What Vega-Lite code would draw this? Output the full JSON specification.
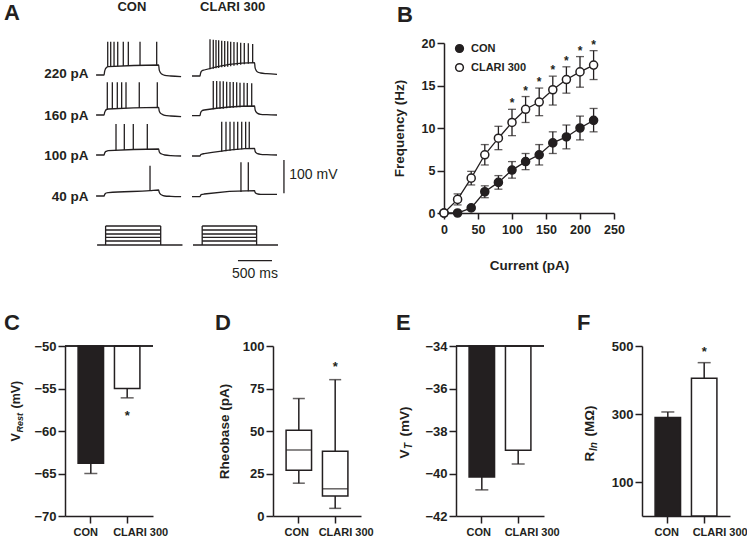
{
"$schema": "https://vega.github.io/schema/vega-lite/v6.json",
"padding": {"left": 4, "top": 0, "right": 0, "bottom": 0},
"background": "white",
"config": {
  "font": "Liberation Sans",
  "view": {"stroke": null},
  "axis": {"grid": false, "domainColor": "#231f20", "domainWidth": 1.5, "tickColor": "#231f20", "tickWidth": 1.5, "tickSize": 7, "labelColor": "#231f20", "labelFontWeight": "bold", "labelFontSize": 13, "labelPadding": 2, "titleColor": "#231f20", "titleFontWeight": "bold", "titleFontSize": 13.5, "labelAngle": 0},
  "title": {"fontSize": 22, "fontWeight": "bold", "color": "#231f20", "anchor": "start", "frame": "group", "offset": 0}
},
"vconcat": [
 {
  "hconcat": [
   {
    "width": 235, "height": 237,
    "title": {"text": "A", "dx": -61, "dy": 29},
    "layer": [
     {
      "data": {"values": [
        {"tr":"c220","t":0,"v":615},{"tr":"c220","t":118,"v":615},{"tr":"c220","t":125,"v":625},{"tr":"c220","t":135,"v":632},{"tr":"c220","t":150,"v":637},{"tr":"c220","t":180,"v":640},{"tr":"c220","t":920,"v":645},{"tr":"c220","t":927,"v":632},{"tr":"c220","t":940,"v":624},{"tr":"c220","t":965,"v":618},{"tr":"c220","t":1010,"v":614},{"tr":"c220","t":1100,"v":612},{"tr":"c220","t":1250,"v":610},
        {"tr":"k220","t":1410,"v":612},{"tr":"k220","t":1528,"v":612},{"tr":"k220","t":1535,"v":619},{"tr":"k220","t":1545,"v":625},{"tr":"k220","t":1560,"v":628},{"tr":"k220","t":1590,"v":630},{"tr":"k220","t":2330,"v":652},{"tr":"k220","t":2337,"v":638},{"tr":"k220","t":2350,"v":630},{"tr":"k220","t":2375,"v":624},{"tr":"k220","t":2420,"v":621},{"tr":"k220","t":2510,"v":619},{"tr":"k220","t":2660,"v":617},
        {"tr":"c160","t":0,"v":495},{"tr":"c160","t":118,"v":495},{"tr":"c160","t":125,"v":502},{"tr":"c160","t":135,"v":507},{"tr":"c160","t":150,"v":511},{"tr":"c160","t":180,"v":513},{"tr":"c160","t":920,"v":518},{"tr":"c160","t":927,"v":508},{"tr":"c160","t":940,"v":502},{"tr":"c160","t":965,"v":498},{"tr":"c160","t":1010,"v":494},{"tr":"c160","t":1100,"v":492},{"tr":"c160","t":1250,"v":490},
        {"tr":"k160","t":1410,"v":493},{"tr":"k160","t":1528,"v":493},{"tr":"k160","t":1535,"v":500},{"tr":"k160","t":1545,"v":505},{"tr":"k160","t":1560,"v":508},{"tr":"k160","t":1590,"v":510},{"tr":"k160","t":2330,"v":522},{"tr":"k160","t":2337,"v":512},{"tr":"k160","t":2350,"v":505},{"tr":"k160","t":2375,"v":500},{"tr":"k160","t":2420,"v":497},{"tr":"k160","t":2510,"v":496},{"tr":"k160","t":2660,"v":495},
        {"tr":"c100","t":0,"v":375},{"tr":"c100","t":118,"v":375},{"tr":"c100","t":125,"v":380},{"tr":"c100","t":135,"v":384},{"tr":"c100","t":150,"v":386},{"tr":"c100","t":180,"v":388},{"tr":"c100","t":920,"v":393},{"tr":"c100","t":927,"v":386},{"tr":"c100","t":940,"v":381},{"tr":"c100","t":965,"v":378},{"tr":"c100","t":1010,"v":375},{"tr":"c100","t":1100,"v":373},{"tr":"c100","t":1250,"v":372},
        {"tr":"k100","t":1410,"v":372},{"tr":"k100","t":1528,"v":372},{"tr":"k100","t":1535,"v":375},{"tr":"k100","t":1545,"v":377},{"tr":"k100","t":1560,"v":378},{"tr":"k100","t":1590,"v":379},{"tr":"k100","t":2330,"v":395},{"tr":"k100","t":2337,"v":387},{"tr":"k100","t":2350,"v":382},{"tr":"k100","t":2375,"v":379},{"tr":"k100","t":2420,"v":377},{"tr":"k100","t":2510,"v":376},{"tr":"k100","t":2660,"v":375},
        {"tr":"c40","t":0,"v":252},{"tr":"c40","t":118,"v":252},{"tr":"c40","t":125,"v":256},{"tr":"c40","t":135,"v":259},{"tr":"c40","t":150,"v":261},{"tr":"c40","t":180,"v":262},{"tr":"c40","t":793,"v":268},{"tr":"c40","t":920,"v":270},{"tr":"c40","t":927,"v":264},{"tr":"c40","t":940,"v":259},{"tr":"c40","t":965,"v":255},{"tr":"c40","t":1010,"v":252},{"tr":"c40","t":1100,"v":251},{"tr":"c40","t":1250,"v":250},
        {"tr":"k40","t":1410,"v":250},{"tr":"k40","t":1528,"v":250},{"tr":"k40","t":1535,"v":253},{"tr":"k40","t":1545,"v":256},{"tr":"k40","t":1560,"v":257},{"tr":"k40","t":1590,"v":258},{"tr":"k40","t":2330,"v":268},{"tr":"k40","t":2337,"v":263},{"tr":"k40","t":2350,"v":260},{"tr":"k40","t":2375,"v":258},{"tr":"k40","t":2420,"v":257},{"tr":"k40","t":2510,"v":257},{"tr":"k40","t":2660,"v":257}
      ]},
      "mark": {"type": "line", "color": "#231f20", "strokeWidth": 1.3, "interpolate": "monotone"},
      "encoding": {
        "x": {"field": "t", "type": "quantitative", "scale": {"domain": [-457, 2998], "nice": false, "zero": false},
              "axis": {"orient": "top", "values": [518, 2000], "labelExpr": "datum.value < 1000 ? 'CON' : 'CLARI 300'", "domain": false, "ticks": false, "title": null, "labelFontSize": 13, "labelPadding": 30, "labelFlush": false}},
        "y": {"field": "v", "type": "quantitative", "scale": {"domain": [0, 711], "nice": false, "zero": false},
              "axis": {"orient": "left", "values": [252, 375, 495, 620], "labelExpr": "datum.value > 600 ? '220 pA' : datum.value > 450 ? '160 pA' : datum.value > 300 ? '100 pA' : '40 pA'", "domain": false, "ticks": false, "title": null, "offset": -25, "labelPadding": 2, "labelFontSize": 13.5, "labelBaseline": "middle"}},
        "detail": {"field": "tr"}
      }
     },
     {
      "data": {"values": [
        {"t":171,"t2":171,"v":640,"v2":715},{"t":215,"t2":215,"v":640,"v2":715},{"t":264,"t2":264,"v":641,"v2":715},{"t":318,"t2":318,"v":641,"v2":715},{"t":400,"t2":400,"v":642,"v2":715},{"t":474,"t2":474,"v":642,"v2":715},{"t":646,"t2":646,"v":643,"v2":715},{"t":891,"t2":891,"v":645,"v2":715},
        {"t":1675,"t2":1675,"v":632,"v2":722},{"t":1723,"t2":1723,"v":634,"v2":721},{"t":1763,"t2":1763,"v":635,"v2":720},{"t":1802,"t2":1802,"v":636,"v2":719},{"t":1847,"t2":1847,"v":638,"v2":718},{"t":1891,"t2":1891,"v":639,"v2":717},{"t":1935,"t2":1935,"v":640,"v2":716},{"t":1979,"t2":1979,"v":641,"v2":715},{"t":2027,"t2":2027,"v":643,"v2":714},{"t":2076,"t2":2076,"v":644,"v2":713},{"t":2126,"t2":2126,"v":646,"v2":712},{"t":2179,"t2":2179,"v":647,"v2":711},{"t":2238,"t2":2238,"v":649,"v2":710},{"t":2302,"t2":2302,"v":651,"v2":708},
        {"t":165,"t2":165,"v":513,"v2":593},{"t":239,"t2":239,"v":513,"v2":593},{"t":312,"t2":312,"v":514,"v2":593},{"t":376,"t2":376,"v":514,"v2":593},{"t":440,"t2":440,"v":515,"v2":593},{"t":635,"t2":635,"v":516,"v2":593},{"t":900,"t2":900,"v":518,"v2":593},
        {"t":1723,"t2":1723,"v":512,"v2":597},{"t":1773,"t2":1773,"v":513,"v2":597},{"t":1822,"t2":1822,"v":514,"v2":596},{"t":1870,"t2":1870,"v":514,"v2":596},{"t":1920,"t2":1920,"v":515,"v2":595},{"t":1969,"t2":1969,"v":516,"v2":594},{"t":2017,"t2":2017,"v":517,"v2":594},{"t":2067,"t2":2067,"v":518,"v2":593},{"t":2116,"t2":2116,"v":518,"v2":592},{"t":2174,"t2":2174,"v":519,"v2":592},{"t":2223,"t2":2223,"v":520,"v2":591},{"t":2288,"t2":2288,"v":521,"v2":590},
        {"t":293,"t2":293,"v":389,"v2":468},{"t":415,"t2":415,"v":390,"v2":468},{"t":547,"t2":547,"v":390,"v2":468},{"t":753,"t2":753,"v":392,"v2":468},
        {"t":1847,"t2":1847,"v":385,"v2":475},{"t":1910,"t2":1910,"v":386,"v2":475},{"t":1969,"t2":1969,"v":388,"v2":475},{"t":2027,"t2":2027,"v":389,"v2":475},{"t":2082,"t2":2082,"v":390,"v2":475},{"t":2141,"t2":2141,"v":392,"v2":475},{"t":2199,"t2":2199,"v":393,"v2":475},{"t":2252,"t2":2252,"v":394,"v2":475},
        {"t":793,"t2":793,"v":268,"v2":343},
        {"t":2130,"t2":2130,"v":264,"v2":353},{"t":2238,"t2":2238,"v":266,"v2":353},
        {"t":15,"t2":1270,"v":105,"v2":105},{"t":140,"t2":140,"v":105,"v2":162},{"t":950,"t2":950,"v":105,"v2":162},
        {"t":140,"t2":950,"v":117,"v2":117},{"t":140,"t2":950,"v":128,"v2":128},{"t":140,"t2":950,"v":138,"v2":138},{"t":140,"t2":950,"v":150,"v2":150},{"t":140,"t2":950,"v":162,"v2":162},
        {"t":1425,"t2":2675,"v":105,"v2":105},{"t":1560,"t2":1560,"v":105,"v2":162},{"t":2360,"t2":2360,"v":105,"v2":162},
        {"t":1560,"t2":2360,"v":117,"v2":117},{"t":1560,"t2":2360,"v":128,"v2":128},{"t":1560,"t2":2360,"v":138,"v2":138},{"t":1560,"t2":2360,"v":150,"v2":150},{"t":1560,"t2":2360,"v":162,"v2":162},
        {"t":2762,"t2":2762,"v":260,"v2":360},{"t":2086,"t2":2586,"v":58,"v2":58}
      ]},
      "mark": {"type": "rule", "color": "#231f20", "strokeWidth": 1.3},
      "encoding": {
        "x": {"field": "t", "type": "quantitative", "axis": null},
        "x2": {"field": "t2"},
        "y": {"field": "v", "type": "quantitative", "axis": null},
        "y2": {"field": "v2"}
      }
     },
     {
      "data": {"values": [{"label": "100 mV", "t": 3195, "v": 314}, {"label": "500 ms", "t": 2336, "v": 18}]},
      "mark": {"type": "text", "fontSize": 14, "fontWeight": "normal", "color": "#231f20", "align": "center", "baseline": "middle"},
      "encoding": {
        "x": {"field": "t", "type": "quantitative", "axis": null},
        "y": {"field": "v", "type": "quantitative", "axis": null},
        "text": {"field": "label"}
      }
     }
    ],
    "resolve": {"axis": {"x": "independent", "y": "independent"}}
   },
   {
    "width": 170, "height": 170,
    "title": {"text": "B", "dx": -47, "dy": -6},
    "data": {"values": [
      {"current":0,"group":"CON","mean":0,"lo":0,"hi":0,"sig":false},
      {"current":20,"group":"CON","mean":0,"lo":0,"hi":0,"sig":false},
      {"current":40,"group":"CON","mean":0.6,"lo":0.4,"hi":0.8,"sig":false},
      {"current":60,"group":"CON","mean":2.5,"lo":1.8,"hi":3.2,"sig":false},
      {"current":80,"group":"CON","mean":3.6,"lo":2.8,"hi":4.4,"sig":false},
      {"current":100,"group":"CON","mean":5.05,"lo":4.1,"hi":6.05,"sig":false},
      {"current":120,"group":"CON","mean":6.05,"lo":5.1,"hi":7.0,"sig":false},
      {"current":140,"group":"CON","mean":6.85,"lo":5.65,"hi":8.05,"sig":false},
      {"current":160,"group":"CON","mean":8.25,"lo":7.0,"hi":9.55,"sig":false},
      {"current":180,"group":"CON","mean":8.95,"lo":7.55,"hi":10.35,"sig":false},
      {"current":200,"group":"CON","mean":10.0,"lo":8.6,"hi":11.4,"sig":false},
      {"current":220,"group":"CON","mean":10.9,"lo":9.55,"hi":12.3,"sig":false},
      {"current":0,"group":"CLARI 300","mean":0,"lo":0,"hi":0,"sig":false},
      {"current":20,"group":"CLARI 300","mean":1.6,"lo":0.95,"hi":2.25,"sig":false},
      {"current":40,"group":"CLARI 300","mean":4.1,"lo":3.3,"hi":4.9,"sig":false},
      {"current":60,"group":"CLARI 300","mean":6.85,"lo":5.65,"hi":8.05,"sig":false},
      {"current":80,"group":"CLARI 300","mean":8.8,"lo":7.45,"hi":10.2,"sig":false},
      {"current":100,"group":"CLARI 300","mean":10.65,"lo":9.1,"hi":12.2,"sig":true},
      {"current":120,"group":"CLARI 300","mean":12.2,"lo":10.65,"hi":13.7,"sig":true},
      {"current":140,"group":"CLARI 300","mean":13.05,"lo":11.45,"hi":14.7,"sig":true},
      {"current":160,"group":"CLARI 300","mean":14.5,"lo":12.7,"hi":16.1,"sig":true},
      {"current":180,"group":"CLARI 300","mean":15.7,"lo":14.1,"hi":17.2,"sig":true},
      {"current":200,"group":"CLARI 300","mean":16.6,"lo":14.8,"hi":18.4,"sig":true},
      {"current":220,"group":"CLARI 300","mean":17.4,"lo":15.7,"hi":19.1,"sig":true}
    ]},
    "layer": [
     {
      "mark": {"type": "line", "color": "#231f20", "strokeWidth": 1.3},
      "encoding": {
        "x": {"field": "current", "type": "quantitative", "scale": {"domain": [0, 250], "nice": false},
              "axis": {"orient": "bottom", "values": [0, 50, 100, 150, 200, 250], "title": "Current (pA)", "titleX": 85, "titleY": 52, "titleBaseline": "middle", "titleAlign": "center", "labelFontSize": 12.5, "labelPadding": 4, "tickSize": 6, "labelFlush": false}},
        "y": {"field": "mean", "type": "quantitative", "scale": {"domain": [0, 20], "nice": false},
              "axis": {"orient": "left", "values": [0, 5, 10, 15, 20], "title": "Frequency (Hz)", "titleX": -45, "titleY": 85, "titleAngle": -90, "titleBaseline": "middle", "titleAlign": "center", "labelFontSize": 12.5}},
        "detail": {"field": "group"}
      }
     },
     {
      "mark": {"type": "rule", "color": "#231f20", "strokeWidth": 1.3},
      "encoding": {"x": {"field": "current", "type": "quantitative", "axis": null}, "y": {"field": "lo", "type": "quantitative", "axis": null}, "y2": {"field": "hi"}}
     },
     {
      "mark": {"type": "tick", "orient": "horizontal", "size": 8, "thickness": 1.3, "color": "#231f20"},
      "encoding": {"x": {"field": "current", "type": "quantitative", "axis": null}, "y": {"field": "lo", "type": "quantitative", "axis": null}}
     },
     {
      "mark": {"type": "tick", "orient": "horizontal", "size": 8, "thickness": 1.3, "color": "#231f20"},
      "encoding": {"x": {"field": "current", "type": "quantitative", "axis": null}, "y": {"field": "hi", "type": "quantitative", "axis": null}}
     },
     {
      "mark": {"type": "point", "filled": true, "shape": "circle", "size": 65, "strokeWidth": 1.5, "opacity": 1},
      "encoding": {
        "x": {"field": "current", "type": "quantitative", "axis": null},
        "y": {"field": "mean", "type": "quantitative", "axis": null},
        "fill": {"field": "group", "type": "nominal", "scale": {"domain": ["CON", "CLARI 300"], "range": ["#231f20", "#ffffff"]},
                 "legend": {"title": null, "orient": "none", "legendX": 10, "legendY": 0, "symbolType": "circle", "symbolSize": 60, "symbolStrokeWidth": 1.5, "labelFontSize": 11, "labelFontWeight": "bold", "labelColor": "#231f20", "labelOffset": 6, "rowPadding": 4, "padding": 0}},
        "stroke": {"field": "group", "type": "nominal", "scale": {"domain": ["CON", "CLARI 300"], "range": ["#231f20", "#231f20"]},
                 "legend": {"title": null, "orient": "none", "legendX": 10, "legendY": 0, "symbolType": "circle", "symbolSize": 60, "symbolStrokeWidth": 1.5, "labelFontSize": 11, "labelFontWeight": "bold", "labelColor": "#231f20", "labelOffset": 6, "rowPadding": 4, "padding": 0}}
      }
     },
     {
      "transform": [{"filter": "datum.sig"}],
      "mark": {"type": "text", "text": "*", "fontSize": 12, "fontWeight": "bold", "baseline": "alphabetic", "dy": -2, "color": "#231f20"},
      "encoding": {"x": {"field": "current", "type": "quantitative", "axis": null}, "y": {"field": "hi", "type": "quantitative", "axis": null}}
     }
    ],
    "resolve": {"axis": {"x": "independent", "y": "independent"}}
   }
  ],
  "spacing": 144,
  "bounds": "flush",
  "resolve": {"legend": {"fill": "independent", "stroke": "independent"}}
 },
 {
  "hconcat": [
   {
    "width": 88, "height": 170,
    "title": {"text": "C", "dx": -61, "dy": -1},
    "data": {"values": [{"group": "CON", "mean": -63.8, "lo": -65.0, "sig": false}, {"group": "CLARI 300", "mean": -55.0, "lo": -56.1, "sig": true}]},
    "layer": [
     {
      "mark": {"type": "bar", "stroke": "#231f20", "strokeWidth": 1.5},
      "encoding": {
        "x": {"field": "group", "type": "nominal", "sort": ["CON", "CLARI 300"], "scale": {"paddingInner": 0.3, "paddingOuter": 0.36}, "axis": {"orient": "bottom", "title": null, "labelAngle": 0, "labelFontSize": 11, "labelPadding": 3, "labelOffset": {"condition": {"test": "datum.value == 'CON'", "value": -5}, "value": 13.5}}},
        "y": {"field": "mean", "type": "quantitative", "scale": {"domain": [-70, -50], "nice": false, "zero": false},
              "axis": {"orient": "left", "values": [-70, -65, -60, -55, -50], "title": "V", "titleX": -50, "titleY": 95, "titleAngle": -90, "titleAlign": "left", "titleBaseline": "middle", "titleFontSize": 12.5}},
        "y2": {"datum": -50},
        "fill": {"field": "group", "type": "nominal", "scale": {"domain": ["CON", "CLARI 300"], "range": ["#231f20", "#ffffff"]}, "legend": null}
      }
     },
     {
      "mark": {"type": "rule", "color": "#231f20", "strokeWidth": 1.5},
      "encoding": {
        "x": {"field": "group", "type": "nominal", "sort": ["CON", "CLARI 300"], "axis": null},
        "y": {"field": "mean", "type": "quantitative", "axis": {"orient": "left", "title": "Rest", "labels": false, "ticks": false, "domain": false, "titleX": -46, "titleY": 86, "titleAngle": -90, "titleAlign": "left", "titleBaseline": "middle", "titleFontSize": 9, "titleFontStyle": "italic"}},
        "y2": {"field": "lo"}
      }
     },
     {
      "mark": {"type": "tick", "size": 13, "thickness": 1.5, "color": "#231f20"},
      "encoding": {
        "x": {"field": "group", "type": "nominal", "sort": ["CON", "CLARI 300"], "axis": null},
        "y": {"field": "lo", "type": "quantitative", "axis": {"orient": "left", "title": "(mV)", "labels": false, "ticks": false, "domain": false, "titleX": -50, "titleY": 62, "titleAngle": -90, "titleAlign": "left", "titleBaseline": "middle", "titleFontSize": 12.5}}
      }
     },
     {
      "mark": {"type": "rule", "color": "#231f20", "strokeWidth": 1.5},
      "encoding": {"y": {"datum": -50, "type": "quantitative", "axis": null}}
     },
     {
      "transform": [{"filter": "datum.sig"}],
      "mark": {"type": "text", "text": "*", "fontSize": 13, "fontWeight": "bold", "baseline": "alphabetic", "dy": 22, "color": "#231f20"},
      "encoding": {
        "x": {"field": "group", "type": "nominal", "sort": ["CON", "CLARI 300"], "axis": null},
        "y": {"field": "lo", "type": "quantitative", "axis": null}
      }
     }
    ],
    "resolve": {"axis": {"x": "independent", "y": "independent"}}
   },
   {
    "hconcat": [
     {
      "width": 88, "height": 170,
      "title": {"text": "D", "dx": -58, "dy": -1},
      "data": {"values": [{"group": "CON", "min": 19.3, "q1": 26.9, "median": 38.8, "q3": 50.4, "max": 69.1, "sig": false}, {"group": "CLARI 300", "min": 4.5, "q1": 11.7, "median": 16.0, "q3": 38.1, "max": 80.2, "sig": true}]},
      "layer": [
       {
        "mark": {"type": "rule", "color": "#231f20", "strokeWidth": 1.5},
        "encoding": {
          "x": {"field": "group", "type": "nominal", "sort": ["CON", "CLARI 300"], "scale": {"paddingInner": 0.3, "paddingOuter": 0.36}, "axis": {"orient": "bottom", "title": null, "labelAngle": 0, "labelFontSize": 11, "labelPadding": 3, "labelOffset": {"condition": {"test": "datum.value == 'CON'", "value": -2}, "value": 11}}},
          "y": {"field": "min", "type": "quantitative", "scale": {"domain": [0, 100], "nice": false},
                "axis": {"orient": "left", "values": [0, 25, 50, 75, 100], "title": "Rheobase (pA)", "titleX": -49, "titleY": 85, "titleAngle": -90, "titleAlign": "center", "titleBaseline": "middle"}},
          "y2": {"field": "max"}
        }
       },
       {
        "mark": {"type": "tick", "size": 12, "thickness": 1.5, "color": "#231f20"},
        "encoding": {"x": {"field": "group", "type": "nominal", "sort": ["CON", "CLARI 300"], "axis": null}, "y": {"field": "min", "type": "quantitative", "axis": null}}
       },
       {
        "mark": {"type": "tick", "size": 12, "thickness": 1.5, "color": "#231f20"},
        "encoding": {"x": {"field": "group", "type": "nominal", "sort": ["CON", "CLARI 300"], "axis": null}, "y": {"field": "max", "type": "quantitative", "axis": null}}
       },
       {
        "mark": {"type": "bar", "fill": "#ffffff", "stroke": "#231f20", "strokeWidth": 1.5},
        "encoding": {"x": {"field": "group", "type": "nominal", "sort": ["CON", "CLARI 300"], "axis": null}, "y": {"field": "q1", "type": "quantitative", "axis": null}, "y2": {"field": "q3"}}
       },
       {
        "mark": {"type": "tick", "thickness": 1.5, "color": "#231f20"},
        "encoding": {"x": {"field": "group", "type": "nominal", "sort": ["CON", "CLARI 300"], "axis": null}, "y": {"field": "median", "type": "quantitative", "axis": null}}
       },
       {
        "transform": [{"filter": "datum.sig"}],
        "mark": {"type": "text", "text": "*", "fontSize": 13, "fontWeight": "bold", "baseline": "alphabetic", "dy": -9, "color": "#231f20"},
        "encoding": {"x": {"field": "group", "type": "nominal", "sort": ["CON", "CLARI 300"], "axis": null}, "y": {"field": "max", "type": "quantitative", "axis": null}}
       }
      ],
      "resolve": {"axis": {"x": "independent", "y": "independent"}}
     },
     {
      "hconcat": [
       {
        "width": 88, "height": 170,
        "title": {"text": "E", "dx": -60, "dy": -1},
        "data": {"values": [{"group": "CON", "mean": -40.17, "lo": -40.77, "sig": false}, {"group": "CLARI 300", "mean": -38.9, "lo": -39.55, "sig": false}]},
        "layer": [
         {
          "mark": {"type": "bar", "stroke": "#231f20", "strokeWidth": 1.5},
          "encoding": {
            "x": {"field": "group", "type": "nominal", "sort": ["CON", "CLARI 300"], "scale": {"paddingInner": 0.3, "paddingOuter": 0.36}, "axis": {"orient": "bottom", "title": null, "labelAngle": 0, "labelFontSize": 11, "labelPadding": 3, "labelOffset": {"condition": {"test": "datum.value == 'CON'", "value": -3}, "value": 14}}},
            "y": {"field": "mean", "type": "quantitative", "scale": {"domain": [-42, -34], "nice": false, "zero": false},
                  "axis": {"orient": "left", "values": [-42, -40, -38, -36, -34], "title": "V", "titleX": -52, "titleY": 112, "titleAngle": -90, "titleAlign": "left", "titleBaseline": "middle"}},
            "y2": {"datum": -34},
            "fill": {"field": "group", "type": "nominal", "scale": {"domain": ["CON", "CLARI 300"], "range": ["#231f20", "#ffffff"]}, "legend": null}
          }
         },
         {
          "mark": {"type": "rule", "color": "#231f20", "strokeWidth": 1.5},
          "encoding": {
            "x": {"field": "group", "type": "nominal", "sort": ["CON", "CLARI 300"], "axis": null},
            "y": {"field": "mean", "type": "quantitative", "axis": {"orient": "left", "title": "T", "labels": false, "ticks": false, "domain": false, "titleX": -48, "titleY": 102.5, "titleAngle": -90, "titleAlign": "left", "titleBaseline": "middle", "titleFontSize": 10, "titleFontStyle": "italic"}},
            "y2": {"field": "lo"}
          }
         },
         {
          "mark": {"type": "tick", "size": 13, "thickness": 1.5, "color": "#231f20"},
          "encoding": {
            "x": {"field": "group", "type": "nominal", "sort": ["CON", "CLARI 300"], "axis": null},
            "y": {"field": "lo", "type": "quantitative", "axis": {"orient": "left", "title": "(mV)", "labels": false, "ticks": false, "domain": false, "titleX": -52, "titleY": 90, "titleAngle": -90, "titleAlign": "left", "titleBaseline": "middle"}}
          }
         },
         {
          "mark": {"type": "rule", "color": "#231f20", "strokeWidth": 1.5},
          "encoding": {"y": {"datum": -34, "type": "quantitative", "axis": null}}
         }
        ],
        "resolve": {"axis": {"x": "independent", "y": "independent"}}
       },
       {
        "width": 88, "height": 170,
        "title": {"text": "F", "dx": -65, "dy": -1},
        "data": {"values": [{"group": "CON", "mean": 290, "hi": 306, "sig": false}, {"group": "CLARI 300", "mean": 405, "hi": 451, "sig": true}]},
        "layer": [
         {
          "mark": {"type": "bar", "stroke": "#231f20", "strokeWidth": 1.5},
          "encoding": {
            "x": {"field": "group", "type": "nominal", "sort": ["CON", "CLARI 300"], "scale": {"paddingInner": 0.3, "paddingOuter": 0.36}, "axis": {"orient": "bottom", "title": null, "labelAngle": 0, "labelFontSize": 11, "labelPadding": 3, "labelOffset": {"condition": {"test": "datum.value == 'CON'", "value": -1}, "value": 16}}},
            "y": {"field": "mean", "type": "quantitative", "scale": {"domain": [0, 500], "nice": false},
                  "axis": {"orient": "left", "values": [100, 300, 500], "title": "R", "titleX": -53, "titleY": 115, "titleAngle": -90, "titleAlign": "left", "titleBaseline": "middle"}},
            "fill": {"field": "group", "type": "nominal", "scale": {"domain": ["CON", "CLARI 300"], "range": ["#231f20", "#ffffff"]}, "legend": null}
          }
         },
         {
          "mark": {"type": "rule", "color": "#231f20", "strokeWidth": 1.5},
          "encoding": {
            "x": {"field": "group", "type": "nominal", "sort": ["CON", "CLARI 300"], "axis": null},
            "y": {"field": "mean", "type": "quantitative", "axis": {"orient": "left", "title": "In", "labels": false, "ticks": false, "domain": false, "titleX": -49, "titleY": 104.5, "titleAngle": -90, "titleAlign": "left", "titleBaseline": "middle", "titleFontSize": 10, "titleFontStyle": "italic"}},
            "y2": {"field": "hi"}
          }
         },
         {
          "mark": {"type": "tick", "size": 13, "thickness": 1.5, "color": "#231f20"},
          "encoding": {
            "x": {"field": "group", "type": "nominal", "sort": ["CON", "CLARI 300"], "axis": null},
            "y": {"field": "hi", "type": "quantitative", "axis": {"orient": "left", "title": "(MΩ)", "labels": false, "ticks": false, "domain": false, "titleX": -53, "titleY": 90, "titleAngle": -90, "titleAlign": "left", "titleBaseline": "middle"}}
          }
         },
         {
          "transform": [{"filter": "datum.sig"}],
          "mark": {"type": "text", "text": "*", "fontSize": 13, "fontWeight": "bold", "baseline": "alphabetic", "dy": -7, "color": "#231f20"},
          "encoding": {"x": {"field": "group", "type": "nominal", "sort": ["CON", "CLARI 300"], "axis": null}, "y": {"field": "hi", "type": "quantitative", "axis": null}}
         }
        ],
        "resolve": {"axis": {"x": "independent", "y": "independent"}}
       }
      ],
      "spacing": 98,
      "bounds": "flush"
     }
    ],
    "spacing": 95,
    "bounds": "flush"
   }
  ],
  "spacing": 120,
  "bounds": "flush"
 }
],
"spacing": 31
}
